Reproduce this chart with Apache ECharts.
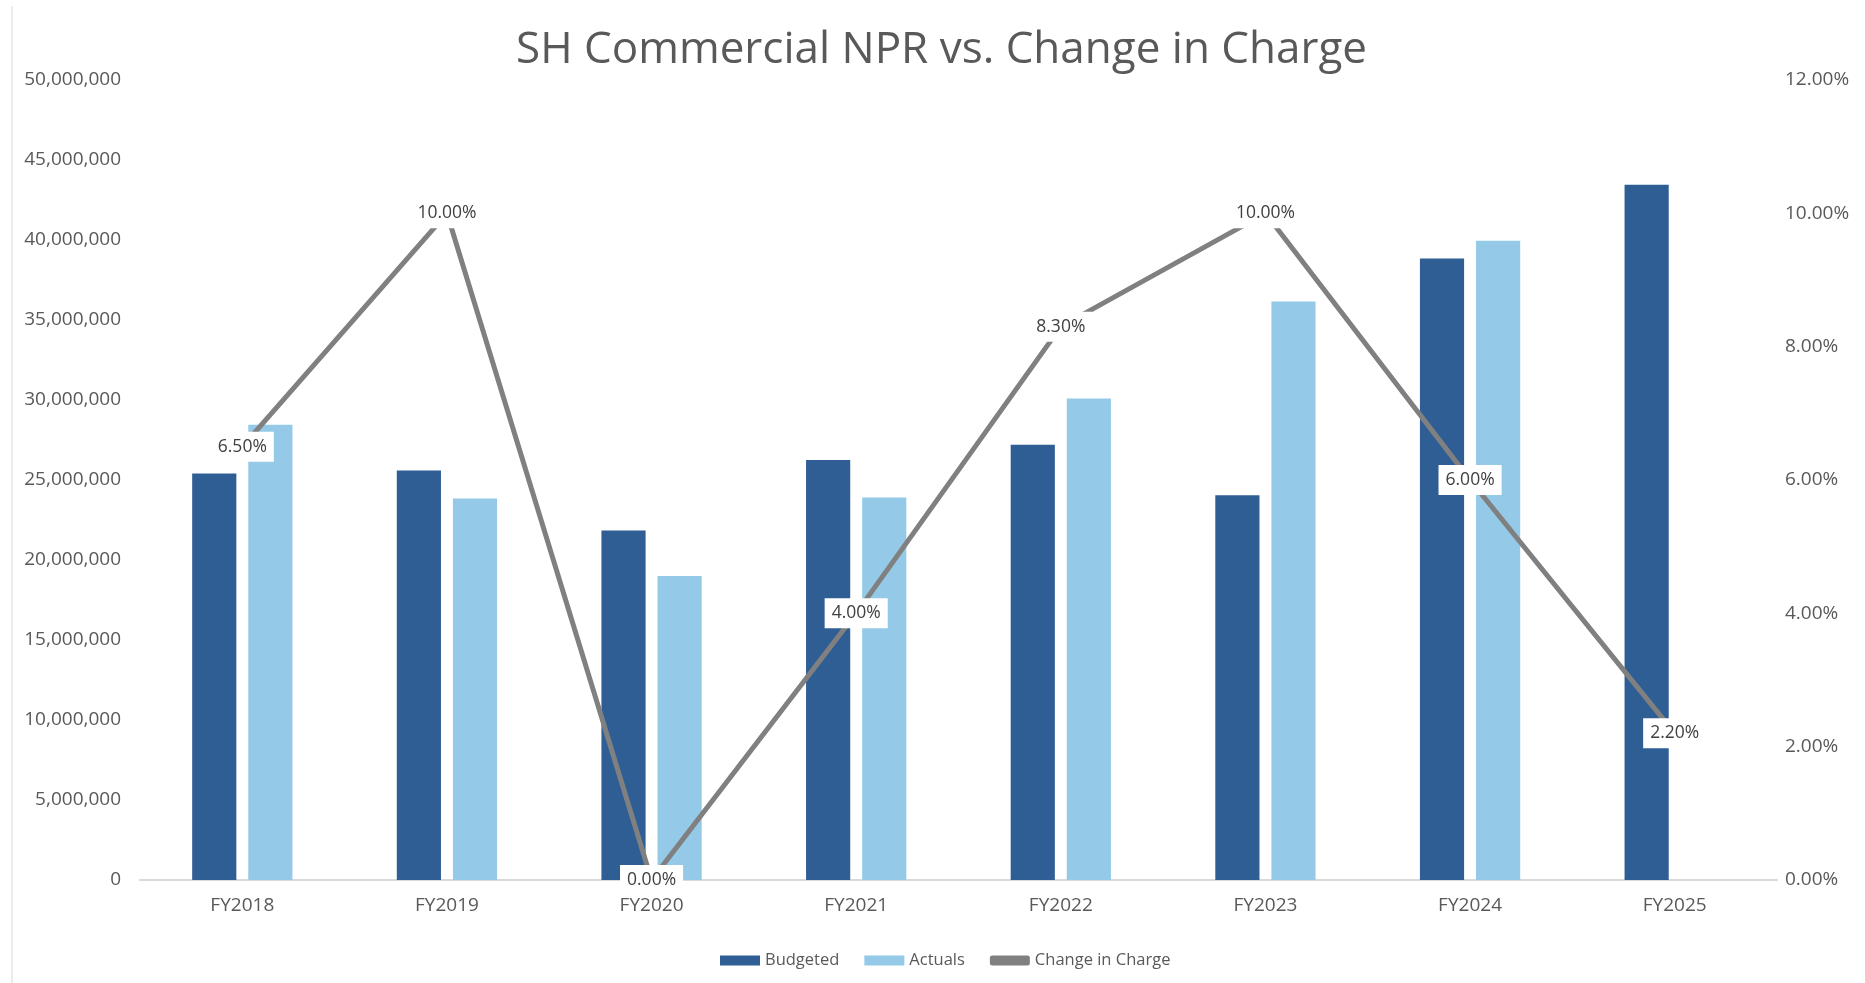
<!DOCTYPE html>
<html>
<head>
<meta charset="utf-8">
<script src="https://cdn.jsdelivr.net/npm/echarts@6/dist/echarts.min.js"></script>
<style>
html,body{margin:0;padding:0;background:#fff;}
#chart{width:1865px;height:983px;}
</style>
</head>
<body>
<div id="chart"></div>
<script>
var categories = ['FY2018','FY2019','FY2020','FY2021','FY2022','FY2023','FY2024','FY2025'];
var budgeted = [25400000, 25600000, 21850000, 26250000, 27200000, 24050000, 38850000, 43450000];
var actuals = [28450000, 23850000, 19000000, 23900000, 30100000, 36150000, 39950000, null];
var changeInCharge = [6.5, 10.0, 0.0, 4.0, 8.3, 10.0, 6.0, 2.2];
var leftTicks = {min: 0, max: 50000000, interval: 5000000};
var rightTicks = {min: 0, max: 12, interval: 2};

var FONT = '"Open Sans", "Noto Sans", sans-serif';
var chart = echarts.init(document.getElementById('chart'));
chart.setOption({
  backgroundColor: '#ffffff',
  animation: false,
  title: {
    text: 'SH Commercial NPR vs. Change in Charge',
    left: 511,
    top: 23,
    textStyle: {fontFamily: FONT, fontSize: 44, fontWeight: 'normal', color: '#595959'}
  },
  legend: {
    bottom: 9,
    left: 715,
    itemWidth: 40,
    itemHeight: 10,
    itemGap: 25,
    textStyle: {fontFamily: FONT, fontSize: 16.5, color: '#595959'},
    data: [
      {name: 'Budgeted', icon: 'rect'},
      {name: 'Actuals', icon: 'rect'},
      {name: 'Change in Charge', icon: 'roundRect'}
    ]
  },
  grid: {left: 140, right: 88, top: 80, bottom: 103, containLabel: false},
  xAxis: {
    type: 'category',
    data: categories,
    axisLine: {lineStyle: {color: '#d9d9d9', width: 2}},
    axisTick: {show: false},
    axisLabel: {fontFamily: FONT, fontSize: 19, color: '#595959', margin: 16}
  },
  yAxis: [
    {
      type: 'value',
      min: leftTicks.min, max: leftTicks.max, interval: leftTicks.interval,
      splitLine: {show: false},
      axisLine: {show: false},
      axisTick: {show: false},
      axisLabel: {
        fontFamily: FONT, fontSize: 19, color: '#595959', margin: 19,
        formatter: function (v) { return v.toLocaleString('en-US'); }
      }
    },
    {
      type: 'value',
      min: rightTicks.min, max: rightTicks.max, interval: rightTicks.interval,
      splitLine: {show: false},
      axisLine: {show: false},
      axisTick: {show: false},
      axisLabel: {
        fontFamily: FONT, fontSize: 19, color: '#595959', margin: 8,
        formatter: function (v) { return v.toFixed(2) + '%'; }
      }
    }
  ],
  series: [
    {
      name: 'Budgeted', type: 'bar', data: budgeted, yAxisIndex: 0,
      barGap: '27%', barCategoryGap: '51%',
      itemStyle: {color: '#2f5e94'}
    },
    {
      name: 'Actuals', type: 'bar', data: actuals, yAxisIndex: 0,
      itemStyle: {color: '#94cae8'}
    },
    {
      name: 'Change in Charge', type: 'line', data: changeInCharge, yAxisIndex: 1,
      showSymbol: true, symbol: 'circle', symbolSize: 1,
      lineStyle: {color: '#808080', width: 5},
      itemStyle: {color: '#808080'},
      label: {
        show: true, position: 'inside',
        fontFamily: FONT, fontSize: 17.5, color: '#404040',
        backgroundColor: '#ffffff', padding: [6, 7],
        formatter: function (p) { return p.value.toFixed(2) + '%'; }
      },
      z: 5
    }
  ],
  graphic: [
    {type: 'line', shape: {x1: 12, y1: 6, x2: 12, y2: 983}, style: {stroke: '#d9d9d9', lineWidth: 1}}
  ]
});
</script>
</body>
</html>
